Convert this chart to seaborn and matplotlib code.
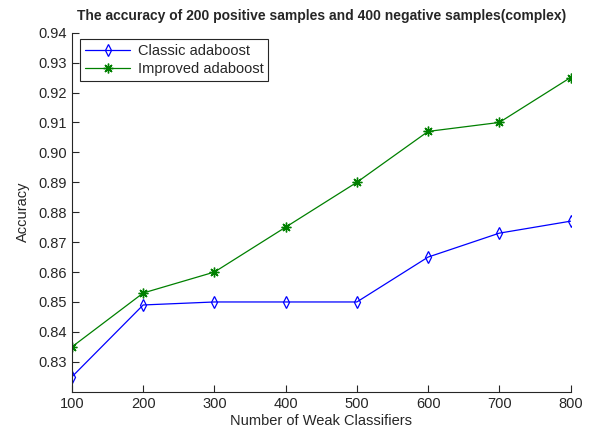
import pandas as pd
import matplotlib
matplotlib.use('Agg')
import matplotlib.pyplot as plt
import seaborn as sns

# data
classifiers = [100, 200, 300, 400, 500, 600, 700, 800]
classic_acc = [0.825, 0.849, 0.850, 0.850, 0.850, 0.865, 0.873, 0.877]
improved_acc = [0.835, 0.853, 0.860, 0.875, 0.890, 0.907, 0.910, 0.925]
yticks = [0.83, 0.84, 0.85, 0.86, 0.87, 0.88, 0.89, 0.90, 0.91, 0.92, 0.93, 0.94]

sns.set_style('ticks')
plt.rcParams['font.family'] = ['Liberation Sans', 'DejaVu Sans']

fig = plt.figure(figsize=(5.9, 4.3), dpi=100)
ax = fig.add_axes([0.122, 0.089, 0.845, 0.835])

sns.lineplot(x=classifiers, y=classic_acc, ax=ax, color='blue', lw=0.9,
             marker='d', markersize=5.8, markerfacecolor='none',
             markeredgecolor='blue', markeredgewidth=0.9, label='Classic adaboost')
# MATLAB-style asterisk: 8 spokes
sns.lineplot(x=classifiers, y=improved_acc, ax=ax, color='green', lw=0.9,
             marker=(8, 2, 0), markersize=7, markeredgewidth=1.0,
             markeredgecolor='green', label='Improved adaboost')

ax.set_xlim(100, 800)
ax.set_ylim(0.82, 0.94)
ax.set_xticks(classifiers)
ax.set_yticks(yticks)
ax.set_yticklabels([f'{v:.2f}' for v in yticks])
ax.tick_params(direction='in', length=5, width=0.8, labelsize=10.5, colors='#262626')
ax.tick_params(axis='x', pad=4)
sns.despine(ax=ax)
for s in ['left', 'bottom']:
    ax.spines[s].set_linewidth(0.8)
    ax.spines[s].set_color('#262626')

ax.set_xlabel('Number of Weak Classifiers', fontsize=10.5, labelpad=2)
ax.set_ylabel('Accuracy', fontsize=10.5, labelpad=6)
ax.set_title('The accuracy of 200 positive samples and 400 negative samples(complex)',
             fontsize=10, fontweight='bold', color='#262626', pad=9)

leg = ax.legend(loc='upper left', bbox_to_anchor=(0.016, 0.982), borderaxespad=0,
                fontsize=10.5, fancybox=False, framealpha=1, edgecolor='#262626',
                handlelength=3.1, handletextpad=0.5, borderpad=0.35, labelspacing=0.25)
leg.get_frame().set_linewidth(0.8)

fig.savefig('out.png', dpi=100)
